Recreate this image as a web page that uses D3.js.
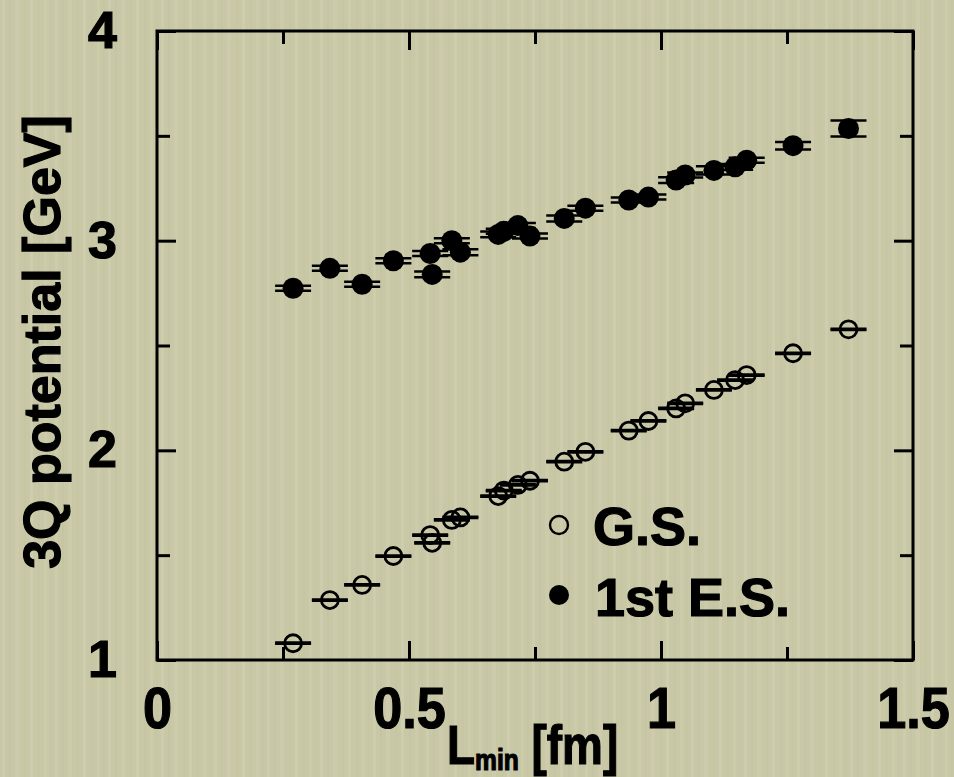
<!DOCTYPE html>
<html>
<head>
<meta charset="utf-8">
<script src="https://cdn.jsdelivr.net/npm/d3@7"></script>
<style>
  html, body { margin: 0; padding: 0; background: #c8c7a5; }
  svg { display: block; }
  text { font-family: "Liberation Sans", Arial, Helvetica, sans-serif; font-weight: bold;
         fill: #000; stroke: #000; stroke-width: 1.2px; }
</style>
</head>
<body>
<svg></svg>
<script>
// L_min [fm] for each 3Q configuration
const lmin  = [0.270, 0.343, 0.407, 0.469, 0.542, 0.546, 0.585, 0.602, 0.677, 0.688, 0.716, 0.740,
               0.808, 0.850, 0.936, 0.975, 1.030, 1.048, 1.105, 1.147, 1.170, 1.262, 1.372];
// ground state potential [GeV]
const gsPot = [1.080, 1.286, 1.358, 1.496, 1.596, 1.559, 1.668, 1.680, 1.782, 1.808, 1.835, 1.855,
               1.946, 1.993, 2.094, 2.140, 2.200, 2.224, 2.288, 2.335, 2.359, 2.463, 2.577];
const gsErr = [0.003, 0.003, 0.003, 0.003, 0.003, 0.003, 0.003, 0.003, 0.003, 0.003, 0.003, 0.003,
               0.003, 0.003, 0.003, 0.003, 0.003, 0.003, 0.003, 0.003, 0.003, 0.003, 0.003];
// 1st excited state potential [GeV]
const esPot = [2.773, 2.868, 2.792, 2.904, 2.939, 2.839, 3.000, 2.945, 3.030, 3.045, 3.072, 3.022,
               3.106, 3.155, 3.194, 3.208, 3.289, 3.313, 3.335, 3.352, 3.384, 3.453, 3.535];
const esErr = [0.012, 0.012, 0.012, 0.012, 0.012, 0.014, 0.012, 0.014, 0.014, 0.012, 0.012, 0.012,
               0.014, 0.012, 0.012, 0.012, 0.014, 0.012, 0.020, 0.014, 0.012, 0.018, 0.038];

const xMajor = [0, 0.5, 1, 1.5];
const xMinor = [0.25, 0.75, 1.25];
const yMajor = [1, 2, 3, 4];
const yMinor = [1.5, 2.5, 3.5];

const W = 954, H = 777;
const margin = {top: 31, right: 41, bottom: 117, left: 157},
      width = W - margin.left - margin.right,
      height = H - margin.top - margin.bottom;

const svg = d3.select("svg")
    .attr("width", W)
    .attr("height", H);

// paper texture: soft vertical streaks
const defs = svg.append("defs");
const pat = defs.append("pattern")
    .attr("id", "paper")
    .attr("patternUnits", "userSpaceOnUse")
    .attr("width", 53)
    .attr("height", H);
pat.append("rect").attr("width", 53).attr("height", H).attr("fill", "#c9c8a6");
[[2, 3, "#d4d3b6", 0.45], [9, 2, "#bfbe9c", 0.3], [15, 4, "#d2d1b3", 0.35], [24, 2, "#c0bf9d", 0.25],
 [30, 3, "#d5d4b8", 0.4], [38, 2, "#bebd9a", 0.25], [44, 3, "#d1d0b2", 0.35], [50, 2, "#c1c09e", 0.25]]
  .forEach(([px, pw, c, o]) => {
    pat.append("rect").attr("x", px).attr("width", pw).attr("height", H)
       .attr("fill", c).attr("opacity", o);
  });
svg.append("rect").attr("width", W).attr("height", H).attr("fill", "url(#paper)");

const g = svg.append("g")
    .attr("transform", `translate(${margin.left},${margin.top})`);

const x = d3.scaleLinear().domain([0, 1.5]).range([0, width]);
const y = d3.scaleLinear().domain([1, 4]).range([height, 0]);

// ticks on all four sides, pointing inward
function styleAxis(sel) {
  sel.select(".domain").remove();
  sel.selectAll(".tick line").attr("stroke", "#000").attr("stroke-width", 3);
}

g.append("g").attr("transform", `translate(0,${height})`)
  .call(d3.axisBottom(x).tickValues(xMajor).tickSize(-19).tickPadding(27)
        .tickFormat(d => d === 0 ? "0" : d3.format("~g")(d)))
  .call(styleAxis)
  .call(s => s.selectAll(".tick text")
      .attr("font-size", 58).attr("fill", "#000")
      .attr("font-family", null)
      .attr("transform", "scale(0.9,1)"));
g.append("g").attr("transform", `translate(0,${height})`)
  .call(d3.axisBottom(x).tickValues(xMinor).tickSize(-13).tickFormat(""))
  .call(styleAxis);
g.append("g")
  .call(d3.axisTop(x).tickValues(xMajor).tickSize(-19).tickFormat(""))
  .call(styleAxis);
g.append("g")
  .call(d3.axisTop(x).tickValues(xMinor).tickSize(-13).tickFormat(""))
  .call(styleAxis);

g.append("g")
  .call(d3.axisLeft(y).tickValues(yMajor).tickSize(-19).tickPadding(40).tickFormat(d3.format("d")))
  .call(styleAxis)
  .call(s => s.selectAll(".tick text")
      .attr("font-size", 52).attr("fill", "#000").attr("font-family", null));
g.append("g")
  .call(d3.axisLeft(y).tickValues(yMinor).tickSize(-13).tickFormat(""))
  .call(styleAxis);
g.append("g").attr("transform", `translate(${width},0)`)
  .call(d3.axisRight(y).tickValues(yMajor).tickSize(-19).tickFormat(""))
  .call(styleAxis);
g.append("g").attr("transform", `translate(${width},0)`)
  .call(d3.axisRight(y).tickValues(yMinor).tickSize(-13).tickFormat(""))
  .call(styleAxis);

// frame
g.append("rect")
  .attr("width", width).attr("height", height)
  .attr("fill", "none").attr("stroke", "#000").attr("stroke-width", 3);

// data with error bars
const capHalf = 18;
function drawSeries(cls, ys, errs, filled) {
  const data = lmin.map((l, i) => ({l, v: ys[i], e: errs[i]}));
  const s = g.append("g").attr("class", cls);
  const pt = s.selectAll("g").data(data).enter().append("g")
      .attr("transform", d => `translate(${x(d.l)},0)`);
  pt.append("line")
    .attr("y1", d => y(d.v - d.e)).attr("y2", d => y(d.v + d.e))
    .attr("stroke", "#000").attr("stroke-width", 3);
  [-1, 1].forEach(k => {
    pt.append("line")
      .attr("x1", -capHalf).attr("x2", capHalf)
      .attr("y1", d => y(d.v + k * d.e)).attr("y2", d => y(d.v + k * d.e))
      .attr("stroke", "#000").attr("stroke-width", 2.5);
  });
  pt.append("circle")
    .attr("cy", d => y(d.v))
    .attr("r", filled ? 10.5 : 8.5)
    .attr("fill", filled ? "#000" : "none")
    .attr("stroke", "#000")
    .attr("stroke-width", filled ? 0 : 2.8);
}
drawSeries("gs", gsPot, gsErr, false);
drawSeries("es", esPot, esErr, true);

// legend
const leg = svg.append("g");
leg.append("circle").attr("cx", 559).attr("cy", 525).attr("r", 9)
   .attr("fill", "none").attr("stroke", "#000").attr("stroke-width", 2.4);
leg.append("text").attr("x", 593).attr("y", 545).attr("font-size", 54).text("G.S.");
leg.append("circle").attr("cx", 559).attr("cy", 595).attr("r", 10).attr("fill", "#000");
leg.append("text").attr("x", 595).attr("y", 616).attr("font-size", 54).text("1st E.S.");

// axis titles
const xt = svg.append("text")
  .attr("transform", "translate(447,764) scale(0.82,1)")
  .attr("font-size", 56);
xt.append("tspan").text("L");
xt.append("tspan").attr("font-size", 30).attr("dy", 6).text("min");
xt.append("tspan").attr("dy", -6).text(" [fm]");

svg.append("text")
  .attr("transform", "translate(60,342) rotate(-90)")
  .attr("text-anchor", "middle")
  .attr("font-size", 52)
  .text("3Q potential [GeV]");
</script>
</body>
</html>
